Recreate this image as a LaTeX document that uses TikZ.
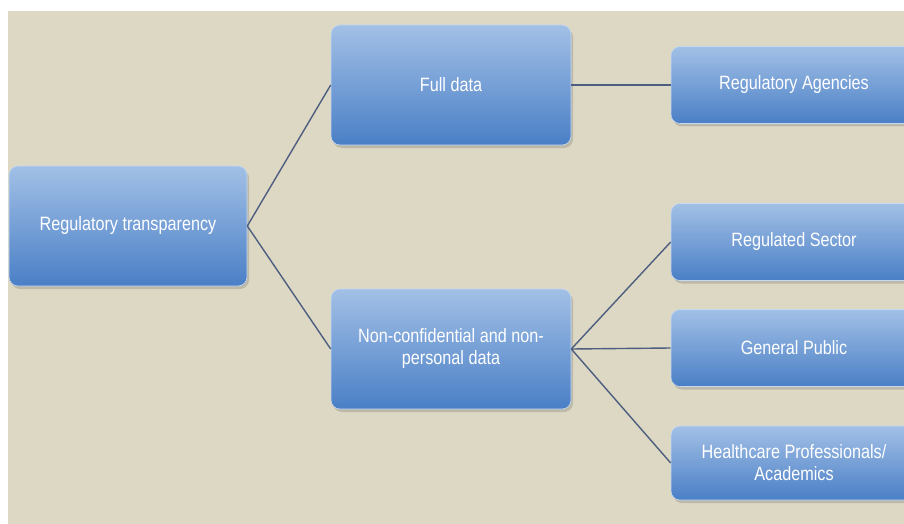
\documentclass[tikz,border=0pt]{standalone}
\usepackage{fontspec}
\setmainfont{Liberation Sans}[FakeStretch=0.84]
\usepackage{tikz}
\usetikzlibrary{shadows}
\definecolor{pagebeige}{HTML}{DDD8C3}
\definecolor{boxtop}{HTML}{A2C0E6}
\definecolor{boxbot}{HTML}{4A7FC6}
\definecolor{linkblue}{HTML}{4D5E80}
\tikzset{
    box/.style    = {rounded corners=9pt, top color=boxtop, bottom color=boxbot,
                    draw=boxtop!60!white, line width=0.6pt,
                    drop shadow={opacity=0.35, shadow xshift=2pt, shadow yshift=-3pt},
                    text=white, align=center, inner sep=4pt,
                    font=\fontsize{19.3}{22}\selectfont},
    bigbox/.style = {box, minimum width=240pt, minimum height=120pt},
    leafbox/.style= {box, minimum width=246pt, minimum height=77pt},
    link/.style   = {draw=linkblue, line width=1.4pt},
  }

\begin{document}
\begin{tikzpicture}[x=1pt,y=-1pt]
    % page and beige panel
    \useasboundingbox (0,0) rectangle (904,524);
    \fill[white] (0,0) rectangle (904,524);
    \fill[pagebeige] (8,11) rectangle (904,524);
    \clip (0,0) rectangle (904,524);

    % Boxes: root, middle level and the leaves
    \node[bigbox, minimum width=238pt] (root) at (128,226) {Regulatory transparency};
    \node[bigbox] (full) at (451,85) {Full data};
    \node[bigbox] (open) at (451,349) {Non-confidential and non-\\personal data};
    \node[leafbox] (agency) at (794,85) {Regulatory Agencies};
    \node[leafbox] (sector) at (794,242) {Regulated Sector};
    \node[leafbox] (public) at (794,348) {General Public};
    \node[leafbox, minimum height=74pt] (health) at (794,463) {Healthcare Professionals/\\Academics};

    % Connectors
    \draw[link] (root.east) -- (full.west);
    \draw[link] (root.east) -- (open.west);
    \draw[link] (full.east) -- (agency.west);
    \foreach \t in {sector,public,health} {
        \draw[link] (open.east) -- (\t.west);
    }
\end{tikzpicture}
\end{document}
